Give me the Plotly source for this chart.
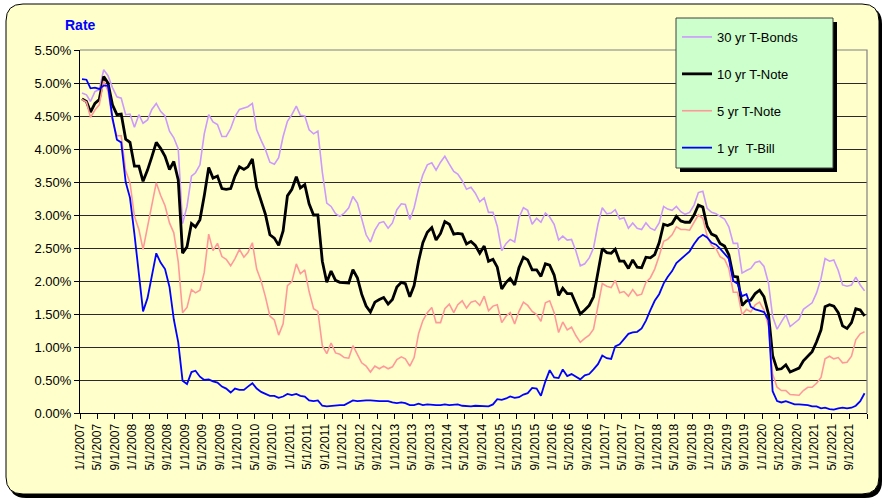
import pandas as pd
import plotly.graph_objects as go

# ---------------- data (monthly average yields, %) ----------------
start_month = "2007-01-01"
n_months = 180

bond30 = [
    4.85, 4.82, 4.72, 4.87, 4.90, 5.20, 5.11, 4.93, 4.79, 4.77, 4.52, 4.53,
    4.33, 4.52, 4.39, 4.44, 4.60, 4.69, 4.57, 4.50, 4.27, 4.17, 4.00, 2.87,
    3.13, 3.59, 3.64, 3.76, 4.23, 4.52, 4.41, 4.37, 4.19, 4.19, 4.31, 4.49,
    4.60, 4.62, 4.64, 4.69, 4.29, 4.13, 3.99, 3.80, 3.77, 3.87, 4.19, 4.42,
    4.52, 4.65, 4.51, 4.50, 4.29, 4.23, 4.27, 3.65, 3.18, 3.13, 3.02, 2.98,
    3.03, 3.11, 3.28, 3.18, 2.93, 2.70, 2.59, 2.77, 2.88, 2.90, 2.80, 2.88,
    3.08, 3.17, 3.16, 2.93, 3.11, 3.40, 3.61, 3.76, 3.79, 3.68, 3.80, 3.89,
    3.77, 3.66, 3.62, 3.52, 3.39, 3.42, 3.33, 3.20, 3.26, 3.04, 3.04, 2.83,
    2.46, 2.57, 2.63, 2.59, 2.96, 3.11, 3.07, 2.86, 2.95, 2.89, 3.03, 2.97,
    2.86, 2.62, 2.68, 2.62, 2.63, 2.45, 2.23, 2.26, 2.35, 2.50, 2.86, 3.11,
    3.02, 3.03, 3.08, 2.94, 2.96, 2.80, 2.88, 2.80, 2.78, 2.88, 2.80, 2.77,
    2.88, 3.13, 3.09, 3.07, 3.13, 3.05, 3.01, 3.04, 3.15, 3.34, 3.36, 3.10,
    3.04, 3.02, 2.98, 2.94, 2.82, 2.57, 2.57, 2.12, 2.16, 2.19, 2.28, 2.30,
    2.22, 1.97, 1.46, 1.27, 1.38, 1.49, 1.31, 1.36, 1.42, 1.57, 1.62, 1.67,
    1.82, 2.04, 2.34, 2.30, 2.32, 2.16, 1.94, 1.92, 1.94, 2.06, 1.94, 1.85,
]

note10 = [
    4.76, 4.72, 4.56, 4.69, 4.75, 5.10, 5.00, 4.67, 4.52, 4.53, 4.15, 4.10,
    3.74, 3.74, 3.51, 3.68, 3.88, 4.10, 4.01, 3.89, 3.69, 3.81, 3.53, 2.42,
    2.52, 2.87, 2.82, 2.93, 3.29, 3.72, 3.56, 3.59, 3.40, 3.39, 3.40, 3.59,
    3.73, 3.69, 3.73, 3.85, 3.42, 3.20, 3.01, 2.70, 2.65, 2.54, 2.76, 3.29,
    3.39, 3.58, 3.41, 3.46, 3.17, 3.00, 3.00, 2.30, 1.98, 2.15, 2.01, 1.98,
    1.97, 1.97, 2.17, 2.05, 1.80, 1.62, 1.53, 1.68, 1.72, 1.75, 1.65, 1.72,
    1.91, 1.98, 1.96, 1.76, 1.93, 2.30, 2.58, 2.74, 2.81, 2.62, 2.72, 2.90,
    2.86, 2.71, 2.72, 2.71, 2.56, 2.60, 2.54, 2.42, 2.53, 2.30, 2.33, 2.21,
    1.88, 1.98, 2.04, 1.94, 2.20, 2.36, 2.32, 2.17, 2.17, 2.07, 2.26, 2.24,
    2.09, 1.78, 1.89, 1.81, 1.81, 1.64, 1.50, 1.56, 1.63, 1.76, 2.14, 2.49,
    2.43, 2.42, 2.48, 2.30, 2.30, 2.19, 2.32, 2.21, 2.20, 2.36, 2.35, 2.40,
    2.58, 2.86, 2.84, 2.87, 2.98, 2.91, 2.89, 2.89, 3.00, 3.15, 3.12, 2.83,
    2.71, 2.68, 2.57, 2.53, 2.40, 2.07, 2.06, 1.63, 1.70, 1.71, 1.81, 1.86,
    1.76, 1.50, 0.87, 0.66, 0.67, 0.73, 0.62, 0.65, 0.68, 0.79, 0.87, 0.93,
    1.08, 1.26, 1.61, 1.64, 1.62, 1.52, 1.32, 1.28, 1.37, 1.58, 1.56, 1.47,
]

note5 = [
    4.75, 4.71, 4.48, 4.59, 4.67, 5.03, 4.88, 4.43, 4.20, 4.20, 3.67, 3.49,
    2.98, 2.78, 2.48, 2.84, 3.15, 3.49, 3.30, 3.14, 2.88, 2.73, 2.29, 1.52,
    1.60, 1.87, 1.82, 1.86, 2.13, 2.71, 2.46, 2.57, 2.37, 2.33, 2.23, 2.34,
    2.48, 2.36, 2.43, 2.58, 2.18, 2.00, 1.76, 1.47, 1.41, 1.18, 1.35, 1.93,
    1.99, 2.26, 2.11, 2.17, 1.84, 1.58, 1.54, 1.02, 0.90, 1.06, 0.91, 0.89,
    0.84, 0.83, 1.02, 0.89, 0.76, 0.71, 0.62, 0.71, 0.67, 0.71, 0.67, 0.70,
    0.81, 0.85, 0.82, 0.71, 0.84, 1.20, 1.40, 1.52, 1.60, 1.37, 1.37, 1.58,
    1.65, 1.52, 1.64, 1.70, 1.59, 1.68, 1.70, 1.63, 1.77, 1.55, 1.62, 1.64,
    1.37, 1.47, 1.52, 1.35, 1.54, 1.68, 1.63, 1.54, 1.49, 1.39, 1.67, 1.70,
    1.52, 1.22, 1.38, 1.26, 1.30, 1.17, 1.07, 1.13, 1.18, 1.27, 1.60, 1.96,
    1.92, 1.90, 2.01, 1.82, 1.84, 1.77, 1.87, 1.78, 1.80, 1.98, 2.05, 2.18,
    2.38, 2.60, 2.63, 2.70, 2.82, 2.78, 2.78, 2.77, 2.89, 3.00, 2.95, 2.68,
    2.54, 2.49, 2.37, 2.33, 2.19, 1.83, 1.83, 1.49, 1.57, 1.53, 1.64, 1.68,
    1.56, 1.32, 0.59, 0.39, 0.34, 0.34, 0.28, 0.27, 0.27, 0.34, 0.39, 0.39,
    0.45, 0.54, 0.82, 0.86, 0.82, 0.84, 0.76, 0.77, 0.86, 1.11, 1.20, 1.23,
]

bill1 = [
    5.06, 5.05, 4.92, 4.93, 4.91, 4.96, 4.96, 4.47, 4.14, 4.10, 3.50, 3.26,
    2.71, 2.05, 1.54, 1.74, 2.06, 2.42, 2.28, 2.18, 1.91, 1.42, 1.07, 0.49,
    0.44, 0.62, 0.64, 0.55, 0.50, 0.51, 0.48, 0.46, 0.40, 0.37, 0.31, 0.37,
    0.35, 0.35, 0.40, 0.45, 0.37, 0.32, 0.29, 0.26, 0.26, 0.23, 0.25, 0.29,
    0.27, 0.29, 0.26, 0.25, 0.19, 0.18, 0.19, 0.11, 0.10, 0.11, 0.11, 0.12,
    0.12, 0.16, 0.19, 0.18, 0.19, 0.19, 0.19, 0.18, 0.18, 0.18, 0.18, 0.16,
    0.15, 0.16, 0.15, 0.12, 0.12, 0.14, 0.12, 0.13, 0.12, 0.12, 0.12, 0.13,
    0.12, 0.12, 0.13, 0.11, 0.10, 0.10, 0.11, 0.11, 0.11, 0.10, 0.13, 0.21,
    0.20, 0.22, 0.25, 0.23, 0.24, 0.28, 0.30, 0.38, 0.37, 0.26, 0.48, 0.65,
    0.54, 0.53, 0.66, 0.56, 0.59, 0.55, 0.51, 0.57, 0.59, 0.66, 0.74, 0.87,
    0.83, 0.82, 1.01, 1.04, 1.12, 1.20, 1.22, 1.23, 1.28, 1.40, 1.56, 1.70,
    1.80, 1.96, 2.06, 2.15, 2.27, 2.33, 2.39, 2.45, 2.56, 2.65, 2.70, 2.66,
    2.58, 2.55, 2.49, 2.42, 2.34, 2.00, 1.96, 1.77, 1.80, 1.61, 1.57, 1.55,
    1.53, 1.41, 0.33, 0.18, 0.16, 0.18, 0.15, 0.13, 0.13, 0.13, 0.12, 0.10,
    0.10, 0.07, 0.08, 0.06, 0.05, 0.07, 0.08, 0.07, 0.08, 0.11, 0.18, 0.30,
]

series_names = ["30 yr T-Bonds", "10 yr T-Note", "5 yr T-Note", "1 yr  T-Bill"]
y_ticks = [0.0, 0.5, 1.0, 1.5, 2.0, 2.5, 3.0, 3.5, 4.0, 4.5, 5.0, 5.5]
x_tick_dates = pd.date_range("2007-01-01", "2022-01-01", freq="4MS")

# ---------------- build figure ----------------
dates = pd.date_range(start_month, periods=n_months, freq="MS") + pd.Timedelta(days=14)

W, H = 885, 502
ML, MR, MT, MB = 80, 18, 50, 89
PW, PH = W - ML - MR, H - MT - MB


def fx(px):
    return (px - ML) / PW


def fy(py):
    return (H - MB - py) / PH


def rounded(x0, y0, x1, y1, r):
    rx, ry = r / PW, r / PH
    a, b, c, d = fx(x0), fy(y0), fx(x1), fy(y1)
    return (f"M {a+rx},{b} L {c-rx},{b} Q {c},{b} {c},{b-ry} "
            f"L {c},{d+ry} Q {c},{d} {c-rx},{d} L {a+rx},{d} "
            f"Q {a},{d} {a},{d+ry} L {a},{b-ry} Q {a},{b} {a+rx},{b} Z")


fig = go.Figure()
styles = [("#CC99FF", 1.6), ("#000000", 2.8), ("#FF9999", 1.6), ("#0000FF", 1.8)]
for name, vals, (col, w) in zip(series_names, [bond30, note10, note5, bill1], styles):
    fig.add_trace(go.Scatter(
        x=dates, y=vals, mode="lines", name=name, legendgroup=name,
        line=dict(color=col, width=w),
    ))

font_family = "Arial, Liberation Sans, sans-serif"

shapes = [
    # outer frame shadow + frame
    dict(type="path", xref="paper", yref="paper", path=rounded(9, 7, 882, 498, 17),
         fillcolor="#000000", line=dict(width=0), layer="below"),
    dict(type="path", xref="paper", yref="paper", path=rounded(6, 4, 879, 494, 17),
         fillcolor="#FFFFCC", line=dict(color="#000000", width=1), layer="below"),
    # plot area top/right border (grey)
    dict(type="path", xref="paper", yref="paper", path="M 0,1 L 1,1 L 1,0",
         line=dict(color="#808080", width=1.2), layer="above"),
    # legend box shadow + box
    dict(type="rect", xref="paper", yref="paper",
         x0=fx(680), x1=fx(837), y0=fy(22), y1=fy(172),
         fillcolor="#000000", line=dict(width=0), layer="above"),
    dict(type="rect", xref="paper", yref="paper",
         x0=fx(676), x1=fx(833), y0=fy(18), y1=fy(168),
         fillcolor="#CCFFCC", line=dict(color="#404040", width=1), layer="above"),
]

fig.update_layout(
    width=W, height=H,
    margin=dict(l=ML, r=MR, t=MT, b=MB, autoexpand=False),
    paper_bgcolor="#FFFFFF",
    plot_bgcolor="rgba(0,0,0,0)",
    font=dict(family=font_family, size=13, color="#000000"),
    showlegend=True,
    legend=dict(
        x=fx(677), y=fy(22), xanchor="left", yanchor="top",
        bgcolor="rgba(0,0,0,0)", borderwidth=0,
        font=dict(family=font_family, size=13, color="#000000"),
        tracegroupgap=17, itemwidth=30,
    ),
    shapes=shapes,
    annotations=[dict(
        text="<b>Rate</b>", xref="paper", yref="paper",
        x=fx(63), y=fy(25), xanchor="left", yanchor="middle",
        showarrow=False, font=dict(family=font_family, size=14, color="#0000FF"),
    )],
    xaxis=dict(
        type="date",
        range=["2007-01-01", "2022-01-01"],
        tickmode="array",
        tickvals=list(x_tick_dates),
        ticktext=[d.strftime("%-m/%-d/%Y") if d.year < 2022 else "" for d in x_tick_dates],
        tickangle=-90,
        tickfont=dict(family=font_family, size=12, color="#000000"),
        ticks="outside", ticklen=5, tickcolor="#000000", tickwidth=1,
        showline=True, linecolor="#000000", linewidth=1.2,
        showgrid=False, zeroline=False,
    ),
    yaxis=dict(
        range=[0, 5.5],
        tickmode="array",
        tickvals=y_ticks,
        ticktext=[f"{v:.2f}%" for v in y_ticks],
        tickfont=dict(family=font_family, size=13, color="#000000"),
        ticks="outside", ticklen=5, tickcolor="#000000", tickwidth=1,
        showline=True, linecolor="#000000", linewidth=1.2,
        showgrid=True, gridcolor="#2A2A2A", gridwidth=1,
        zeroline=False,
    ),
)

fig.write_html(
    "out.html",
    config={"displayModeBar": False},
    post_script="document.body.style.margin='0';document.body.style.padding='0';",
)
